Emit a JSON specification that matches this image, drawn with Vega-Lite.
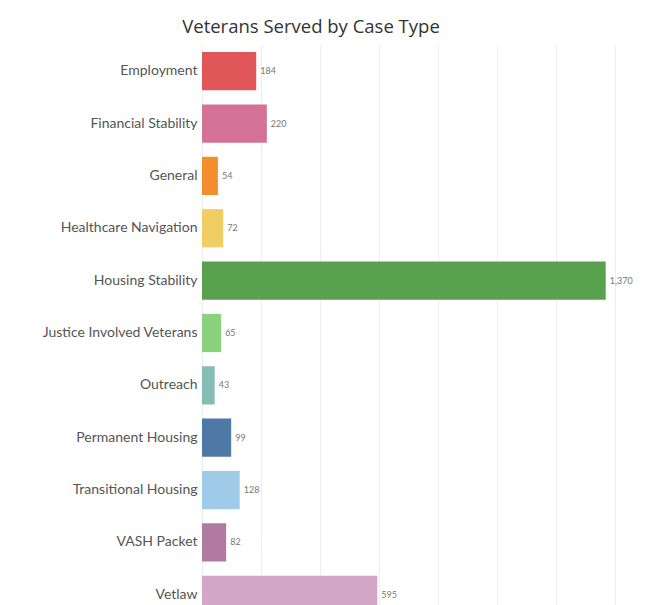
{
  "$schema": "https://vega.github.io/schema/vega-lite/v6.json",
  "autosize": {"type": "none"},
  "padding": {"left": 202, "top": 45, "right": 10, "bottom": 0},
  "width": 442,
  "height": 576,
  "background": "#ffffff",
  "title": {
    "text": "Veterans Served by Case Type",
    "font": "Open Sans",
    "fontSize": 18.5,
    "fontWeight": "normal",
    "color": "#333333",
    "anchor": "middle",
    "dx": -112,
    "offset": 9
  },
  "data": {
    "values": [
      {"case_type": "Employment", "count": 184},
      {"case_type": "Financial Stability", "count": 220},
      {"case_type": "General", "count": 54},
      {"case_type": "Healthcare Navigation", "count": 72},
      {"case_type": "Housing Stability", "count": 1370},
      {"case_type": "Justice Involved Veterans", "count": 65},
      {"case_type": "Outreach", "count": 43},
      {"case_type": "Permanent Housing", "count": 99},
      {"case_type": "Transitional Housing", "count": 128},
      {"case_type": "VASH Packet", "count": 82},
      {"case_type": "Vetlaw", "count": 595}
    ]
  },
  "encoding": {
    "y": {
      "field": "case_type",
      "type": "nominal",
      "sort": null,
      "scale": {"paddingInner": 0.27, "paddingOuter": 0.135},
      "axis": {
        "title": null,
        "domain": false,
        "ticks": false,
        "labelPadding": 5,
        "labelFont": "Lato",
        "labelFontSize": 14,
        "labelColor": "#555555"
      }
    },
    "x": {
      "field": "count",
      "type": "quantitative",
      "scale": {"domain": [0, 1500], "nice": false},
      "axis": {
        "title": null,
        "labels": false,
        "ticks": false,
        "domain": false,
        "grid": true,
        "gridColor": "#eeeeee",
        "values": [0, 200, 400, 600, 800, 1000, 1200, 1400]
      }
    }
  },
  "layer": [
    {
      "mark": {"type": "bar"},
      "encoding": {
        "color": {
          "field": "case_type",
          "type": "nominal",
          "legend": null,
          "scale": {
            "domain": ["Employment", "Financial Stability", "General", "Healthcare Navigation", "Housing Stability", "Justice Involved Veterans", "Outreach", "Permanent Housing", "Transitional Housing", "VASH Packet", "Vetlaw"],
            "range": ["#e15759", "#d37295", "#f28e2b", "#f1ce63", "#59a14f", "#8cd17d", "#86bcb6", "#4e79a7", "#a0cbe8", "#b07aa1", "#d4a6c8"]
          }
        }
      }
    },
    {
      "mark": {"type": "text", "align": "left", "baseline": "middle", "dx": 4, "font": "Lato", "fontSize": 9, "color": "#777777"},
      "encoding": {
        "text": {"field": "count", "type": "quantitative", "format": ","}
      }
    }
  ],
  "config": {"view": {"stroke": null}}
}
